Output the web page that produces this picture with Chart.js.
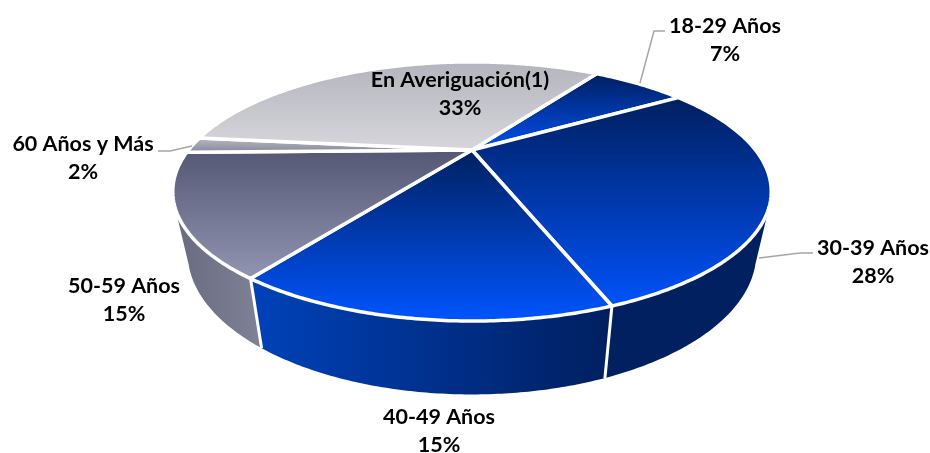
<!DOCTYPE html>
<html>
<head>
<meta charset="utf-8">
<style>
  html, body { margin: 0; padding: 0; background: #fff; }
  #pie-wrap { width: 930px; height: 453px; }
</style>
<script src="https://cdn.jsdelivr.net/npm/chart.js@4/dist/chart.umd.min.js"></script>
</head>
<body>
<div id="pie-wrap"><canvas id="age-chart" width="930" height="453"></canvas></div>
<script>
const categories = ['18-29 Años', '30-39 Años', '40-49 Años', '50-59 Años', '60 Años y Más', 'En Averiguación(1)'];
// the printed labels are these rounded
const shares = [6.8, 28.2, 15.4, 14.9, 2.0, 32.7];

// gradient of the top face, [top colour, bottom colour]
const faceColors = [
    ['#001f5f', '#0050f0'],
    ['#001f5f', '#0052fa'],
    ['#00205f', '#0055ff'],
    ['#555875', '#9195b2'],
    ['#b9b9c4', '#85879c'],
    ['#b4b4be', '#d6d6db']
];
// gradient of the side wall, [left colour, right colour], null when the wall is hidden
const wallColors = [
    null,
    ['#002060', '#002060'],
    ['#0042ba', '#001f5f'],
    ['#686a80', '#7f8196'],
    null,
    null
];
// where each label sits, and its leader line if it has one
const labelCenters = [[725, 26], [873, 248], [439, 417], [124, 286], [83, 144], [460, 80]];
const leaders = [
    [[640, 83], [654, 31], [665, 31]],
    [[759, 258], [800, 253], [813, 253]],
    null,
    null,
    [[158, 151], [170, 151], [192, 146]],
    null
];

// perspective of the disc
const persp = { cx: 472, cy: 150, a: 283.5, b: 116.3, k: 0.32 };
const wallFrom = 113 * Math.PI / 180 - Math.PI / 2;
const wallTo = 247 * Math.PI / 180 - Math.PI / 2;

function topPoint(angle) {
    const u = Math.cos(angle), v = Math.sin(angle), w = 1 - persp.k * v;
    return [persp.cx + persp.a * u / w, persp.cy + persp.b * v / w];
}

function bottomPoint(angle) {
    const p = topPoint(angle);
    return [persp.cx + 0.95 * (p[0] - persp.cx), persp.cy + 58 + 1.09 * (p[1] - persp.cy)];
}

function rim(ctx, from, to, pointFn, first) {
    const steps = Math.max(2, Math.ceil(Math.abs(to - from) / 0.01));
    for (let i = 0; i <= steps; i++) {
        const p = pointFn(from + (to - from) * i / steps);
        if (i === 0 && first) ctx.moveTo(p[0], p[1]);
        else ctx.lineTo(p[0], p[1]);
    }
}

// Chart.js has no 3D pie, so the arcs it lays out are redrawn in perspective
const pie3d = {
    id: 'pie3d',
    beforeDatasetsDraw(chart) {
        const ctx = chart.ctx;
        const arcs = chart.getDatasetMeta(0).data;

        // walls first
        arcs.forEach((arc, i) => {
            if (!wallColors[i]) return;
            const from = Math.max(arc.startAngle, wallFrom);
            const to = Math.min(arc.endAngle, wallTo);
            const left = Math.min(topPoint(from)[0], topPoint(to)[0], bottomPoint(from)[0], bottomPoint(to)[0]);
            const right = Math.max(topPoint(from)[0], topPoint(to)[0], bottomPoint(from)[0], bottomPoint(to)[0]);
            const grad = ctx.createLinearGradient(left, 0, right, 0);
            grad.addColorStop(0, wallColors[i][0]);
            grad.addColorStop(1, wallColors[i][1]);
            ctx.beginPath();
            rim(ctx, from, to, topPoint, true);
            rim(ctx, to, from, bottomPoint, false);
            ctx.closePath();
            ctx.fillStyle = grad;
            ctx.fill();
        });

        // white cuts between the walls
        ctx.strokeStyle = '#fff';
        ctx.lineWidth = 3;
        arcs.forEach((arc, i) => {
            if (!wallColors[i] || !wallColors[i - 1]) return;
            const t = topPoint(arc.startAngle), b = bottomPoint(arc.startAngle);
            ctx.beginPath();
            ctx.moveTo(t[0], t[1]);
            ctx.lineTo(b[0], b[1]);
            ctx.stroke();
        });

        // top faces
        arcs.forEach((arc, i) => {
            let minY = persp.cy, maxY = persp.cy;
            for (let s = 0; s <= 60; s++) {
                const y = topPoint(arc.startAngle + (arc.endAngle - arc.startAngle) * s / 60)[1];
                minY = Math.min(minY, y);
                maxY = Math.max(maxY, y);
            }
            const grad = ctx.createLinearGradient(0, minY, 0, maxY);
            grad.addColorStop(0, faceColors[i][0]);
            grad.addColorStop(1, faceColors[i][1]);
            ctx.beginPath();
            ctx.moveTo(persp.cx, persp.cy);
            rim(ctx, arc.startAngle, arc.endAngle, topPoint, false);
            ctx.closePath();
            ctx.fillStyle = grad;
            ctx.fill();
            ctx.strokeStyle = '#fff';
            ctx.lineWidth = 3.5;
            ctx.lineJoin = 'round';
            ctx.stroke();
        });
        return false;
    },
    afterDraw(chart) {
        const ctx = chart.ctx;
        ctx.strokeStyle = '#a6a6a6';
        ctx.lineWidth = 1.5;
        leaders.forEach(line => {
            if (!line) return;
            ctx.beginPath();
            line.forEach((p, i) => i ? ctx.lineTo(p[0], p[1]) : ctx.moveTo(p[0], p[1]));
            ctx.stroke();
        });
        ctx.fillStyle = '#000';
        ctx.font = 'bold 21.5px Lato';
        ctx.textAlign = 'center';
        ctx.textBaseline = 'middle';
        categories.forEach((name, i) => {
            const c = labelCenters[i];
            ctx.fillText(name, c[0], c[1]);
            ctx.fillText(Math.round(shares[i]) + '%', c[0], c[1] + 28);
        });
    }
};

const ageChart = new Chart(document.getElementById('age-chart'), {
    type: 'pie',
    data: {
        labels: categories,
        datasets: [{ data: shares }]
    },
    options: {
        responsive: false,
        animation: false,
        rotation: 33.8,
        plugins: {
            legend: { display: false },
            tooltip: { enabled: false }
        }
    },
    plugins: [pie3d]
});
</script>
</body>
</html>
